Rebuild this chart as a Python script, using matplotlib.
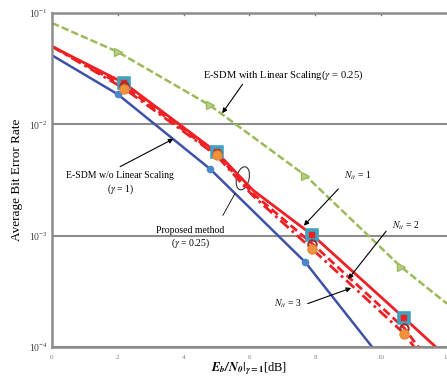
import numpy as np
import matplotlib.pyplot as plt
from matplotlib.patches import Ellipse

plt.rcParams['font.family'] = ['Liberation Serif', 'DejaVu Serif']
plt.rcParams['mathtext.fontset'] = 'stix'

# data (Eb/N0 in dB, BER)
snr_wo = [0, 2.0, 4.8, 7.7, 10.0]
ber_wo = [4.17e-2, 1.86e-2, 3.98e-3, 5.75e-4, 7.9e-5]          # E-SDM w/o linear scaling

snr_lin = [0, 2.0, 4.8, 7.7, 10.6, 12]
ber_lin = [8.13e-2, 4.47e-2, 1.48e-2, 3.47e-3, 5.25e-4, 2.45e-4]  # E-SDM with linear scaling

snr_prop = [0, 2.2, 5.0, 6.1, 7.9, 10.7, 12]
ber_nit1 = [5.01e-2, 2.34e-2, 5.62e-3, 2.57e-3, 1.02e-3, 1.82e-4, 8.1e-5]
ber_nit2 = [5.01e-2, 2.19e-2, 5.37e-3, 2.40e-3, 8.5e-4, 1.48e-4, 4.5e-5]
ber_nit3 = [5.01e-2, 2.09e-2, 5.25e-3, 2.29e-3, 7.6e-4, 1.32e-4, 4.0e-5]
mark_idx = [1, 2, 4, 5]   # points carrying markers

xticks = [0, 2, 4, 6, 8, 10, 12]

fig = plt.figure(figsize=(4.47, 3.79), dpi=100)
ax = fig.add_axes([0.1163, 0.0844, 0.8837, 0.8813])

ax.plot(snr_lin, ber_lin, color='#9BBB59', lw=1.8, ls=(0, (3, 1.2)),
        marker='>', ms=6, markevery=[1, 2, 3, 4], mfc='#B5CF8A', mec='#9BBB59')
ax.plot(snr_wo, ber_wo, color='#3F51A8', lw=1.8,
        marker='o', ms=4.5, markevery=[1, 2, 3], mfc='#4A86C8', mec='#4A86C8')
ax.plot(snr_prop, ber_nit3, color='#EE2024', lw=2, ls=(0, (4, 1.5, 1, 1.5)))
ax.plot(snr_prop, ber_nit2, color='#EE2024', lw=2, ls=(0, (3, 1.5)))
ax.plot(snr_prop, ber_nit1, color='#EE2024', lw=2)
ax.plot(snr_prop, ber_nit1, ls='none', marker='s', ms=6.5, markevery=mark_idx,
        mfc='#EE2024', mec='#3FA3C0', mew=2.6)
ax.plot(snr_prop, ber_nit2, ls='none', marker='o', ms=6, markevery=mark_idx,
        mfc='none', mec='#A0302E', mew=1.5)
ax.plot(snr_prop, ber_nit3, ls='none', marker='o', ms=6.5, markevery=mark_idx,
        mfc='#F0943C', mec='#E8883A')

ax.set_yscale('log')
ax.set_xlim(0, 12)
ax.set_ylim(1e-4, 1e-1)
ax.set_xticks(xticks)
ax.set_xticklabels([str(v) for v in xticks])
ax.tick_params(axis='x', length=0, labelsize=5, labelcolor='#808080', pad=6)
ax.tick_params(axis='y', which='major', length=0, labelsize=7, labelcolor='#404040', pad=3)
ax.minorticks_off()
for xt in xticks[1:-1]:
    ax.plot([xt, xt], [1e-1, 10 ** -1.015], color='#808080', lw=1)

ax.grid(True, axis='y', which='major', color='#8C8C8C', lw=1.5)
for s in ['left', 'bottom', 'top']:
    ax.spines[s].set_color('#8C8C8C')
    ax.spines[s].set_linewidth(1.8)
ax.spines['right'].set_visible(False)

ax.set_ylabel('Average Bit Error Rate', fontsize=9.5, labelpad=4)
ax.set_xlabel(r'$\mathbfit{E_b/N_0}|_{\mathbfit{\gamma}\mathbf{=1}}$[dB]', fontsize=9, labelpad=0)

arrow = dict(arrowstyle='-|>', color='black', lw=0.8, mutation_scale=7, shrinkA=0, shrinkB=0)
fs = 7

ax.annotate('', xy=(5.17, 10 ** -1.90), xytext=(5.79, 10 ** -1.64), arrowprops=arrow)
ax.text(4.6, 10 ** -1.56, r'E-SDM with Linear Scaling($\gamma$ = 0.25)', fontsize=7.6, va='center')

ax.annotate('', xy=(3.69, 10 ** -2.13), xytext=(2.07, 10 ** -2.38), arrowprops=arrow)
ax.text(2.07, 10 ** -2.46, 'E-SDM w/o Linear Scaling', fontsize=fs, ha='center', va='center')
ax.text(2.07, 10 ** -2.58, r'($\gamma$ = 1)', fontsize=fs, ha='center', va='center')

ax.annotate('', xy=(5.6, 10 ** -2.6), xytext=(5.15, 10 ** -2.84),
            arrowprops=dict(arrowstyle='-', color='black', lw=0.6))
ax.text(4.2, 10 ** -2.95, 'Proposed method', fontsize=fs, ha='center', va='center')
ax.text(4.2, 10 ** -3.07, r'($\gamma$ = 0.25)', fontsize=fs, ha='center', va='center')
ax.add_patch(Ellipse((0.483, 0.505), 0.032, 0.07, angle=-10, transform=ax.transAxes,
                     fill=False, ec='#333333', lw=0.8, zorder=1))

ax.annotate('', xy=(7.65, 10 ** -2.91), xytext=(8.7, 10 ** -2.58), arrowprops=arrow)
ax.text(9.3, 10 ** -2.46, r'$N_{it}$ = 1', fontsize=fs, ha='center', va='center')

ax.annotate('', xy=(9.0, 10 ** -3.39), xytext=(10.15, 10 ** -2.96), arrowprops=arrow)
ax.text(10.75, 10 ** -2.91, r'$N_{it}$ = 2', fontsize=fs, ha='center', va='center')

ax.annotate('', xy=(9.09, 10 ** -3.47), xytext=(7.77, 10 ** -3.61), arrowprops=arrow)
ax.text(7.16, 10 ** -3.61, r'$N_{it}$ = 3', fontsize=fs, ha='center', va='center')

fig.savefig('out.png', dpi=100)
